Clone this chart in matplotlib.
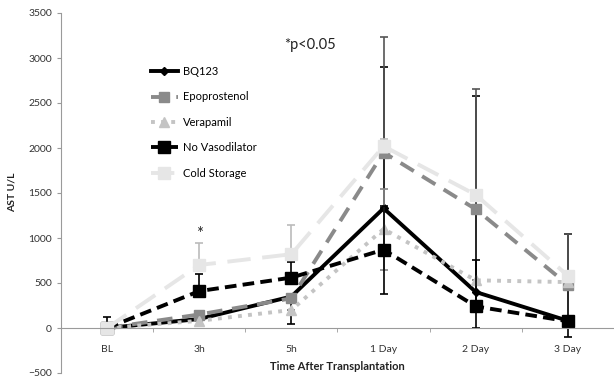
import matplotlib
matplotlib.use("Agg")
import matplotlib.pyplot as plt
import numpy as np

plt.rcParams['font.family'] = ['Lato', 'DejaVu Sans']

# AST values (U/L) per group over time
timepoints = ["BL", "3h", "5h", "1 Day", "2 Day", "3 Day"]
groups = ["BQ123", "Epoprostenol", "Verapamil", "No Vasodilator", "Cold Storage"]

bq123 = [0, 100, 350, 1330, 400, 80]
epoprostenol = [0, 150, 330, 1950, 1320, 480]
verapamil = [0, 80, 200, 1100, 530, 510]
no_vasodilator = [0, 410, 560, 870, 240, 75]
cold_storage = [0, 700, 820, 2020, 1480, 580]

# lower / upper error bar lengths
bq123_lo = [0, 0, 300, 0, 400, 0]
bq123_hi = [0, 0, 0, 1570, 2180, 970]
epo_lo = [0, 0, 0, 0, 0, 0]
epo_hi = [0, 0, 0, 1280, 1340, 570]
vera_lo = [0, 0, 0, 450, 0, 0]
vera_hi = [0, 0, 0, 450, 0, 0]
nov_lo = [60, 0, 0, 490, 0, 180]
nov_hi = [120, 190, 170, 490, 520, 0]
cold_lo = [0, 0, 0, 80, 0, 0]
cold_hi = [0, 240, 320, 80, 0, 0]

values = [bq123, epoprostenol, verapamil, no_vasodilator, cold_storage]
err_lo = [bq123_lo, epo_lo, vera_lo, nov_lo, cold_lo]
err_hi = [bq123_hi, epo_hi, vera_hi, nov_hi, cold_hi]

styles = [
    dict(color="black", linestyle="-", marker="D", markersize=4),
    dict(color="#8a8a8a", linestyle=(0, (4, 2.5)), marker="s", markersize=7),
    dict(color="#c4c4c4", linestyle=(0, (1, 1.6)), marker="^", markersize=7),
    dict(color="black", linestyle=(0, (3, 1.6)), marker="s", markersize=8),
    dict(color="#e6e6e6", linestyle=(0, (6, 3)), marker="s", markersize=9),
]
err_colors = ["black", "#555555", "#888888", "black", "#bbbbbb"]

fig = plt.figure(figsize=(6.14, 3.82), dpi=100)
ax = fig.add_axes([61 / 614, 9 / 382, 1 - 61 / 614, (373 - 13) / 382])

x = np.arange(len(timepoints))
for name, vals, lo, hi, st, ec in zip(groups, values, err_lo, err_hi, styles, err_colors):
    ax.errorbar(x, vals, yerr=[lo, hi], fmt="none", ecolor=ec, elinewidth=1.2,
                capsize=3, capthick=1.2)
    ax.plot(x, vals, label=name, linewidth=2.8, **st)

ax.set_xlim(-0.5, 5.5)
ax.set_ylim(-500, 3500)
ax.set_yticks(np.arange(-500, 3501, 500))

ax.spines['top'].set_visible(False)
ax.spines['right'].set_visible(False)
ax.spines['bottom'].set_position(('data', 0))
ax.spines['bottom'].set_color("#9a9a9a")
ax.spines['left'].set_color("#9a9a9a")

ax.set_xticks(x)
ax.set_xticklabels(timepoints)
ax.set_xticks(np.arange(0.5, 5, 1), minor=True)
ax.tick_params(axis='x', which='major', length=0, pad=12, labelsize=7.5, labelcolor="#333333")
ax.tick_params(axis='x', which='minor', length=3, color="#9a9a9a")
ax.tick_params(axis='y', length=3, color="#9a9a9a", labelsize=7.5, labelcolor="#333333")

fig.text(337 / 614, 1 - 367 / 382, "Time After Transplantation", ha="center", va="center",
         fontsize=8, fontweight="bold", color="#222222")
fig.text(12 / 614, 1 - 192 / 382, "AST U/L", ha="center", va="center", rotation=90,
         fontsize=7.5, fontweight="bold", color="#222222")

ax.text(2.2, 3150, "*p<0.05", ha="center", va="center", fontsize=10.5, color="#222222")
ax.text(1, 1050, "*", ha="center", va="center", fontsize=12, color="#222222")

ax.legend(loc="upper left", bbox_to_anchor=(141 / 614, 1 - 56 / 382),
          bbox_transform=fig.transFigure, frameon=False, fontsize=8,
          labelspacing=1.3, handlelength=2.4, handletextpad=0.5)

fig.savefig("out.png", dpi=100)
